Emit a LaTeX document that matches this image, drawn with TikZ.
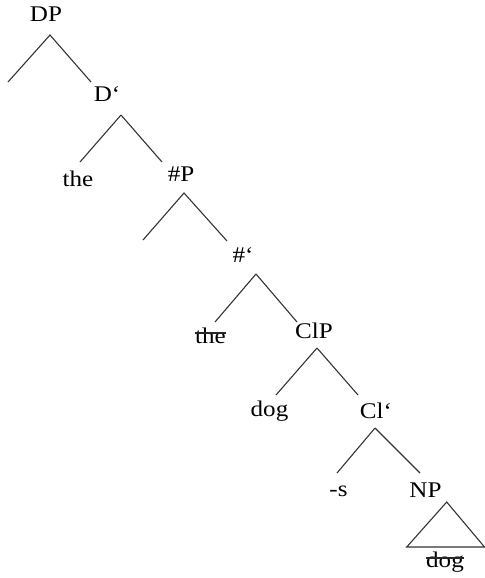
\documentclass[tikz,border=0pt]{standalone}
\usepackage{fontspec}
\setmainfont{Liberation Serif}[FakeStretch=1.12]
\usepackage{tikz}
\tikzset{
  lbl/.style={
    inner sep = 0pt,
    anchor = base,
    font = \fontsize{11.2}{13}\selectfont
  },
  branch/.style={
    line width = 0.55pt,
    draw = black!80
  },
  strike/.style={
    line width = 0.6pt,
    draw = black!85
  }
}

\begin{document}
\begin{tikzpicture}[x=0.5pt,y=-0.5pt]
  \useasboundingbox (0,0) rectangle (485,578);
  % labels
  \node[lbl] (DP) at (46,21) {DP};
  \node[lbl] (Dbar) at (107,101) {D‘};
  \node[lbl] (theD) at (78,186) {the};
  \node[lbl] (NumP) at (181,181) {\#P};
  \node[lbl] (Numbar) at (243,262) {\#‘};
  \node[lbl] (theNum) at (210.5,343) {the};
  \node[lbl] (ClP) at (314,338) {ClP};
  \node[lbl] (dogCl) at (269.5,416) {dog};
  \node[lbl] (Clbar) at (376,418) {Cl‘};
  \node[lbl] (suf) at (338.5,496) {-s};
  \node[lbl] (NP) at (425.5,497) {NP};
  \node[lbl] (dogN) at (445,567) {dog};
  % branch points
  \coordinate (DP-a) at (50,35);
  \coordinate (DP-l) at (8,82);
  \coordinate (Dbar-a) at (121,115);
  \coordinate (NumP-a) at (184,193);
  \coordinate (NumP-l) at (143,240);
  \coordinate (Numbar-a) at (256,274);
  \coordinate (ClP-a) at (317,348);
  \coordinate (Clbar-a) at (375,428);
  \coordinate (NP-a) at (446.7,502);
  \coordinate (NP-bl) at (406.7,547);
  \coordinate (NP-br) at (484.5,547);
  % branches
  \draw[branch] (DP-l) -- (DP-a) -- (91,82) coordinate (Dbar-t);
  \draw[branch] (Dbar-a) -- (80,162) coordinate (theD-t);
  \draw[branch] (Dbar-a) -- (162,162) coordinate (NumP-t);
  \draw[branch] (NumP-l) -- (NumP-a) -- (227,241) coordinate (Numbar-t);
  \draw[branch] (Numbar-a) -- (215,322) coordinate (theNum-t);
  \draw[branch] (Numbar-a) -- (297,322) coordinate (ClP-t);
  \draw[branch] (ClP-a) -- (276,395) coordinate (dogCl-t);
  \draw[branch] (ClP-a) -- (358,395) coordinate (Clbar-t);
  \draw[branch] (Clbar-a) -- (337,473) coordinate (suf-t);
  \draw[branch] (Clbar-a) -- (420,473) coordinate (NP-t);
  \draw[branch] (NP-a) -- (NP-bl) -- (NP-br) -- cycle;
  % struck-out copies
  \draw[strike] ([yshift=5pt]theNum.base west) -- ([yshift=5pt]theNum.base east);
  \draw[strike] ([yshift=4.5pt]dogN.base west) -- ([yshift=4.5pt]dogN.base east);
\end{tikzpicture}
\end{document}
